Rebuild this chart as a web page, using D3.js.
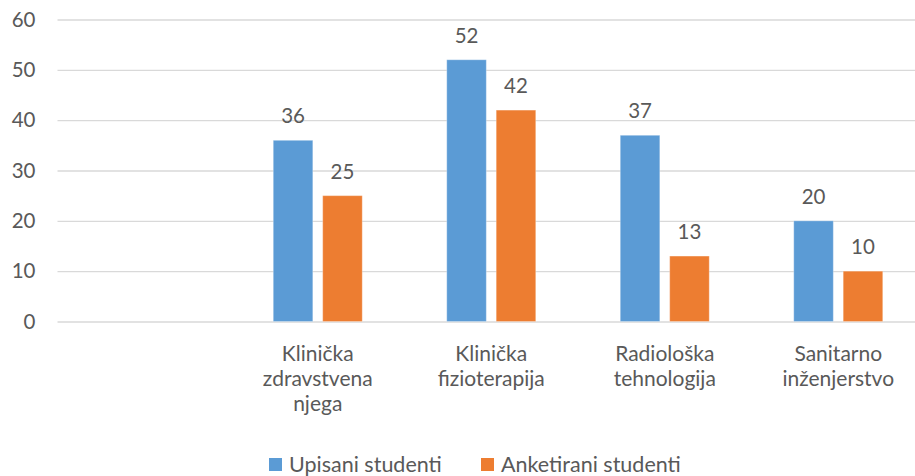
<!doctype html>
<html lang="hr">
<head>
    <meta charset="UTF-8">
    <title>Studenti po studijskim programima</title>
    <script type="text/javascript" src="https://cdn.jsdelivr.net/npm/d3@7"></script>
    <style type="text/css">
        body { margin: 0; background: #fff; }
        text { font-family: Lato, "Open Sans", sans-serif; fill: #595959; }
    </style>
</head>
<body>
<script type="text/javascript">

    // data
    var categories = ["", "Klinička zdravstvena njega", "Klinička fizioterapija", "Radiološka tehnologija", "Sanitarno inženjerstvo"];
    var categoryLines = [[], ["Klinička", "zdravstvena", "njega"], ["Klinička", "fizioterapija"], ["Radiološka", "tehnologija"], ["Sanitarno", "inženjerstvo"]];
    var series = ["Upisani studenti", "Anketirani studenti"];
    var upisani = [null, 36, 52, 37, 20];
    var anketirani = [null, 25, 42, 13, 10];
    var yTicks = [0, 10, 20, 30, 40, 50, 60];
    var colors = ["#5B9BD5", "#ED7D31"];

    var w = 915;
    var h = 476;

    var svg = d3.select("body")
        .append("svg")
        .attr("width", w)
        .attr("height", h);

    var xScale = d3.scaleBand()
        .domain(categories)
        .range([57.5, 925]);

    var x1 = d3.scaleBand()
        .domain(series)
        .range([xScale.bandwidth() / 2 - 44.5, xScale.bandwidth() / 2 + 44.5])
        .paddingInner(0.2);

    var yScale = d3.scaleLinear()
        .domain([0, 60])
        .range([321.5, 19.5]);

    // gridlines + y labels
    var yAxis = d3.axisLeft(yScale)
        .tickValues(yTicks)
        .tickSize(-(925 - 57.5))
        .tickPadding(22);

    var gy = svg.append("g")
        .attr("transform", "translate(57.5,0)")
        .call(yAxis);
    gy.select(".domain").remove();
    gy.selectAll(".tick line").attr("stroke", "#d9d9d9").attr("stroke-width", 1.3);
    gy.selectAll(".tick text")
        .attr("font-size", "20.5px")
        .attr("fill", "#595959")
        .style("font-family", "Lato, 'Open Sans', sans-serif");

    // bars
    var rows = [];
    categories.forEach(function (c, i) {
        if (upisani[i] != null) rows.push({cat: c, s: series[0], v: upisani[i], k: 0});
        if (anketirani[i] != null) rows.push({cat: c, s: series[1], v: anketirani[i], k: 1});
    });

    svg.selectAll("rect.bar")
        .data(rows)
        .enter()
        .append("rect")
        .attr("class", "bar")
        .attr("x", function (d) { return xScale(d.cat) + x1(d.s); })
        .attr("y", function (d) { return yScale(d.v); })
        .attr("width", x1.bandwidth())
        .attr("height", function (d) { return yScale(0) - yScale(d.v); })
        .attr("fill", function (d) { return colors[d.k]; })
        .attr("stroke", "rgba(255,255,255,0.3)")
        .attr("stroke-width", 1);

    // value labels
    svg.selectAll("text.val")
        .data(rows)
        .enter()
        .append("text")
        .attr("class", "val")
        .attr("x", function (d) { return xScale(d.cat) + x1(d.s) + x1.bandwidth() / 2; })
        .attr("y", function (d) { return yScale(d.v) - 17; })
        .attr("text-anchor", "middle")
        .attr("font-size", "20.5px")
        .text(function (d) { return d.v; });

    // category labels
    var cl = svg.selectAll("text.cat")
        .data(categories)
        .enter()
        .append("text")
        .attr("class", "cat")
        .attr("text-anchor", "middle")
        .attr("font-size", "21px")
        .attr("x", function (d) { return xScale(d) + xScale.bandwidth() / 2; })
        .attr("y", 361);
    cl.each(function (d, i) {
        var t = d3.select(this);
        categoryLines[i].forEach(function (line, j) {
            t.append("tspan")
                .attr("x", xScale(d) + xScale.bandwidth() / 2)
                .attr("dy", j === 0 ? 0 : 25)
                .text(line);
        });
    });

    // legend
    var legendX = [269, 481];
    var lg = svg.selectAll("g.legend")
        .data(series)
        .enter()
        .append("g")
        .attr("class", "legend")
        .attr("transform", function (d, i) { return "translate(" + legendX[i] + ",458)"; });
    lg.append("rect")
        .attr("width", 13)
        .attr("height", 13)
        .attr("fill", function (d, i) { return colors[i]; });
    lg.append("text")
        .attr("x", 20)
        .attr("y", 13.5)
        .attr("font-size", "21.5px")
        .text(function (d) { return d; });

</script>
</body>
</html>
